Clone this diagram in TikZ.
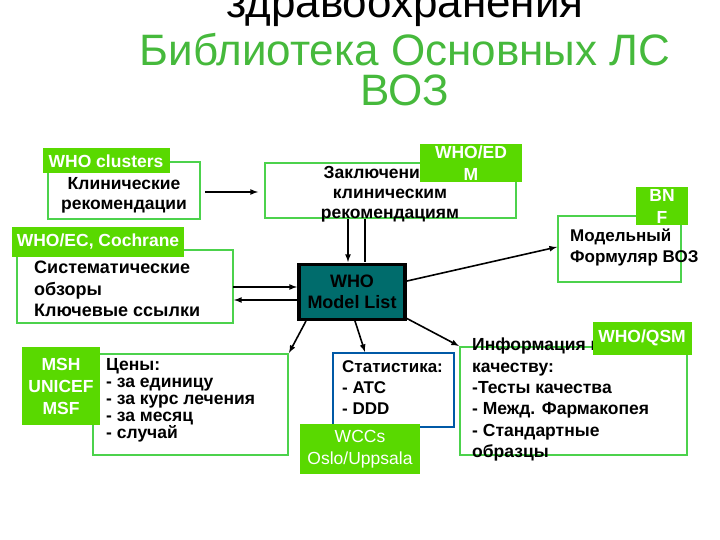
\documentclass[tikz,border=0pt]{standalone}
\usepackage{fontspec}
\setmainfont{Liberation Sans}
\begin{document}
\begin{tikzpicture}[x=1pt,y=-1pt,
 gbox/.style={draw=green!75!black!70!white, line width=1.6pt, fill=white},
 lbl/.style={fill=lime!55!green!85!black, text=white, font=\bfseries\fontsize{17.5}{18}\selectfont, inner sep=2pt, align=center},
 txt/.style={font=\bfseries\fontsize{18}{20}\selectfont, align=left, inner sep=0pt},
 arr/.style={-latex, line width=1.6pt}]
\useasboundingbox (0,0) rectangle (720,540);
\definecolor{ttl}{RGB}{70,185,60}
\node[font=\fontsize{44}{46}\selectfont] (t1) at (405,10) {здравоохранения};
\node[font=\fontsize{44}{46}\selectfont, text=ttl] (t2) at (405,50) {Библиотека Основных ЛС};
\node[font=\fontsize{44}{46}\selectfont, text=ttl] (t3) at (405,90) {ВОЗ};
% boxes
\draw[gbox] (48,162) rectangle (200,219);
\node[txt,align=center,font=\bfseries\fontsize{17.5}{20}\selectfont] (cl) at (124,195) {Клинические\\рекомендации};
\node[lbl, minimum width=127pt, minimum height=25pt] (clL) at (106,161) {WHO clusters};

\draw[gbox] (265,163) rectangle (516,218);
\node[txt,align=center,font=\bfseries\fontsize{17.5}{20}\selectfont] (zk) at (390,194) {Заключения по\\клиническим\\рекомендациям};
\node[lbl, minimum width=102pt, minimum height=32pt, align=center, font=\bfseries\fontsize{17.5}{22}\selectfont] (zkL) at (471,163) {WHO/ED\\M};

\draw[gbox] (17,250) rectangle (233,323);
\node[txt,anchor=west,font=\bfseries\fontsize{18}{21.5}\selectfont] (sr) at (34,289) {Систематические\\обзоры\\Ключевые ссылки};
\node[lbl, minimum width=172pt, minimum height=30pt] (srL) at (98,242) {WHO/EC, Cochrane};

\draw[gbox] (93,354) rectangle (288,455);
\node[txt,anchor=north west,font=\bfseries\fontsize{17.5}{17}\selectfont] (pr) at (106,358) {Цены:\\- за единицу\\- за курс лечения\\- за месяц\\- случай};
\node[lbl, minimum width=78pt, minimum height=78pt, font=\bfseries\fontsize{17.5}{22}\selectfont] (prL) at (61,386) {MSH\\UNICEF\\MSF};

\draw[draw=teal!70!blue, line width=1.6pt, fill=white] (333,353) rectangle (454,427);
\node[txt,anchor=north west,font=\bfseries\fontsize{17}{21}\selectfont] (st) at (342,360) {Статистика:\\- ATC\\- DDD};
\node[lbl, minimum width=120pt, minimum height=50pt, font=\fontsize{17.5}{22}\selectfont] (stL) at (360,449) {WCCs\\Oslo/Uppsala};

\draw[gbox] (558,216) rectangle (681,282);
\node[txt,anchor=north west,font=\bfseries\fontsize{17}{21}\selectfont] (mf) at (570,229) {Модельный\\Формуляр ВОЗ};
\node[lbl, minimum width=52pt, minimum height=32pt, font=\bfseries\fontsize{17.5}{22}\selectfont] (mfL) at (662,206) {BN\\F};

\draw[gbox] (460,347) rectangle (687,455);
\node[txt,anchor=north west,font=\bfseries\fontsize{17.5}{21.3}\selectfont] (qu) at (472,338) {Информация по\\качеству:\\-Тесты качества\\- Межд. Фармакопея\\- Стандартные\\образцы};
\node[lbl, minimum width=99pt, minimum height=33pt] (quL) at (642,338) {WHO/QSM};

\node[draw=black, line width=3.5pt, fill=teal!85!black, minimum width=106pt, minimum height=55pt, align=center, font=\bfseries\fontsize{18}{21}\selectfont] (who) at (352,292) {WHO\\Model List};

% arrows
\draw[arr] (205,192) -- (258,192);
\draw[arr] (348,219) -- (348,262);
\draw[line width=1.6pt] (365,262) -- (365,219);
\draw[arr] (233,287) -- (297,287);
\draw[arr] (297,300) -- (234,300);
\draw[arr] (306,321) -- (289,353);
\draw[arr] (355,321) -- (365,352);
\draw[arr] (406,318) -- (459,346);
\draw[arr] (407,281) -- (557,247);
\end{tikzpicture}
\end{document}
